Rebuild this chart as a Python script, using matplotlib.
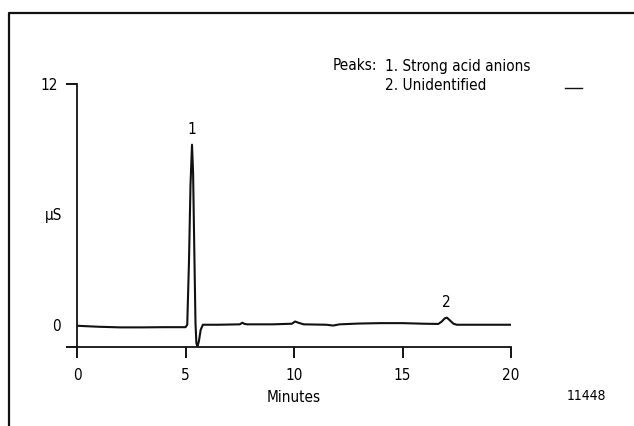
import matplotlib
matplotlib.use("Agg")
import matplotlib.pyplot as plt
from matplotlib.lines import Line2D

plt.rcParams['font.family'] = ['DejaVu Sans']
plt.rcParams['font.stretch'] = 'condensed'

# chromatogram (minutes, uS)
minutes = [0, 1, 2, 3, 4, 5.0, 5.08, 5.16, 5.23, 5.3, 5.35, 5.41, 5.46, 5.5, 5.55,
           5.62, 5.7, 5.8, 6.5, 7.5, 7.62, 7.72, 7.85, 9.0, 9.9, 10.05, 10.2, 10.45,
           11.5, 11.8, 12.1, 13, 14, 15, 16, 16.65, 16.8, 16.95, 17.05, 17.2, 17.35,
           17.5, 18, 19, 20]
signal = [0.05, 0.0, -0.03, -0.03, -0.02, -0.02, 0.1, 3.2, 7.0, 9.0, 7.6, 3.5, 0.2, -0.8, -1.0,
          -0.7, -0.15, 0.1, 0.1, 0.12, 0.2, 0.14, 0.12, 0.12, 0.15, 0.26, 0.2, 0.12,
          0.1, 0.06, 0.12, 0.16, 0.18, 0.18, 0.15, 0.14, 0.25, 0.42, 0.45, 0.3, 0.15,
          0.1, 0.1, 0.1, 0.1]

peak_ids = ["1", "2"]
peak_times = [5.3, 17.0]
peak_heights = [9.0, 0.45]
peak_names = ["Strong acid anions", "Unidentified"]

x_ticks = [0, 5, 10, 15, 20]

W, H = 634, 426
FS = 11
fig = plt.figure(figsize=(W / 100, H / 100), dpi=100)
ax = fig.add_axes([77 / W, 1 - 347 / H, (511 - 77) / W, (347 - 84) / H])

ax.plot(minutes, signal, color='#111111', lw=1.5, solid_joinstyle='round')
ax.set_xlim(0, 20)
ax.set_ylim(-1, 12)

for s in ['top', 'right']:
    ax.spines[s].set_visible(False)
for s in ['left', 'bottom']:
    ax.spines[s].set_linewidth(1.3)
    ax.spines[s].set_color('#111111')

ax.set_xticks(x_ticks)
ax.set_xticklabels([str(t) for t in x_ticks])
ax.tick_params(axis='x', direction='out', length=8, width=1.3, pad=7, labelsize=FS)

ax.set_yticks([-1, 12])
ax.set_yticklabels(['', '12'])
ax.tick_params(axis='y', direction='out', length=8, width=1.3, pad=6, labelsize=FS)
ax.text(-0.75, 0, '0', ha='right', va='center', fontsize=FS)
ax.text(-0.7, 5.5, 'µS', ha='right', va='center', fontsize=FS)

for pid, pt, ph in zip(peak_ids, peak_times, peak_heights):
    ax.text(pt, ph + 0.4, pid, ha='center', va='bottom', fontsize=FS)

ax.set_xlabel('Minutes', fontsize=FS, labelpad=5)

# legend-like text block
fig.text(333 / W, 1 - 66 / H, 'Peaks:', ha='left', va='center', fontsize=FS)
for i, (pid, name) in enumerate(zip(peak_ids, peak_names)):
    fig.text(385 / W, 1 - (66 + 19 * i) / H, f'{pid}. {name}', ha='left', va='center', fontsize=FS)
fig.add_artist(Line2D([565 / W, 582 / W], [1 - 88 / H, 1 - 88 / H], color='#111111', lw=1.0))
fig.text(606 / W, 1 - 396 / H, '11448', ha='right', va='center', fontsize=10)

# outer frame (open to the right and bottom)
fig.add_artist(Line2D([9 / W, 9 / W, 1.0], [0.0, 1 - 13 / H, 1 - 13 / H], color='#111111', lw=1.6))

fig.savefig('out.png', dpi=100)
